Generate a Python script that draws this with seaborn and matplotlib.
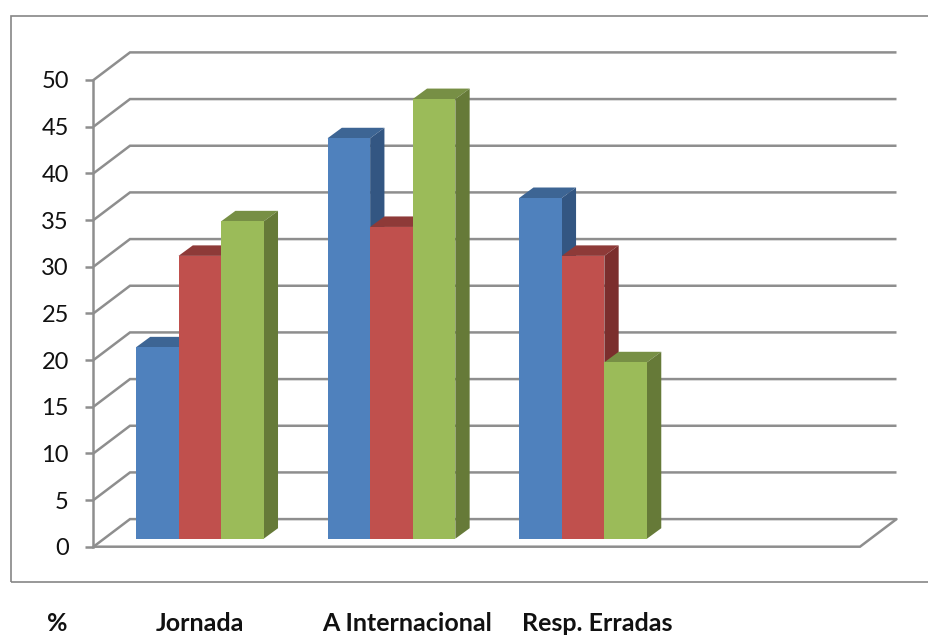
import matplotlib
matplotlib.use("Agg")
import matplotlib.pyplot as plt
import pandas as pd
import seaborn as sns
from matplotlib.patches import Rectangle

# Percentages per group, one list per series
groups = ["Jornada", "A Internacional", "Resp. Erradas", ""]
series_a = [20.5, 42.9, 36.5, None]
series_b = [30.3, 33.4, 30.3, None]
series_c = [34.0, 47.1, 18.9, None]
y_ticks = list(range(0, 55, 5))
footer_labels = ["%", "Jornada", "A Internacional", "Resp. Erradas"]
footer_x = [47, 156, 322, 522]

front_colors = ["#4F81BD", "#C0504D", "#9BBB59"]
top_colors = ["#3D6594", "#8E3A38", "#778F45"]
side_colors = ["#335682", "#7B2E2D", "#667A38"]
GRID = "#8E8E8E"
FRAME = "#868686"

W, H = 929, 637
sns.set_theme(style="white")
plt.rcParams["font.family"] = ["Lato", "DejaVu Sans"]


def pixel_axes(fig, left, right, bottom, top):
    """Axes placed by pixel edges, y measured from the top of the canvas."""
    return fig.add_axes([left / W, 1 - bottom / H, (right - left) / W, (bottom - top) / H])


fig = plt.figure(figsize=(W / 100, H / 100), dpi=100, facecolor="white")
fig.add_artist(Rectangle((11 / W, 1 - 581.5 / H), 1.0, (581.5 - 15.5) / H, transform=fig.transFigure,
                         fill=False, edgecolor=FRAME, linewidth=1.2))

# Walls and floor of the 3D box
X0, X1, Y0, Y50 = 93.5, 860, 546.7, 80
DEPTH_X, DEPTH_Y = 36.5, 27.6
wall = pixel_axes(fig, X0, X1, Y0, Y50)
wall.patch.set_alpha(0)
wall.set_xlim(0, X1 - X0)
wall.set_ylim(y_ticks[0], y_ticks[-1])
unit = (y_ticks[-1] - y_ticks[0]) / (Y0 - Y50)
back_right = X1 - X0 + DEPTH_X
for v in y_ticks:
    wall.plot([0, DEPTH_X, back_right], [v, v + DEPTH_Y * unit, v + DEPTH_Y * unit],
              color=GRID, lw=1.8, clip_on=False, solid_joinstyle="miter", solid_capstyle="butt")
wall.plot([0, X1 - X0, back_right], [0, 0, DEPTH_Y * unit], color=GRID, lw=1.8, clip_on=False,
          solid_joinstyle="miter")
sns.despine(ax=wall, top=True, right=True, bottom=True)
wall.spines["left"].set_color(GRID)
wall.spines["left"].set_linewidth(1.8)
wall.set_xticks([])
wall.set_yticks(y_ticks)
wall.tick_params(axis="y", left=True, length=5.8, width=1.8, color=GRID, pad=12,
                 labelsize=17, labelcolor="#111111")

# Bars stand a little way into the box
SHIFT_X, SHIFT_Y = 10.5, 8.0
bars_ax = pixel_axes(fig, X0 + SHIFT_X, X1 + SHIFT_X, Y0 - SHIFT_Y, Y50 - SHIFT_Y)
bars_ax.patch.set_alpha(0)
names = ["A", "B", "C"]
table = pd.DataFrame({
    "group": groups * 3,
    "series": [n for n in names for _ in groups],
    "value": series_a + series_b + series_c,
})
sns.barplot(data=table, x="group", y="value", hue="series", order=groups, hue_order=names,
            palette=front_colors, saturation=1, width=0.667, gap=0, legend=False,
            ax=bars_ax, zorder=3, linewidth=0)
bars_ax.set_xlim(-0.5, 3.5)
bars_ax.set_ylim(y_ticks[0], y_ticks[-1])
bars_ax.axis("off")

# Top and side faces follow each drawn bar of a series
px_x = 4 / (X1 - X0)
BAR_DX, BAR_DY = 14.3 * px_x, 10.5 * unit
for idx, container in enumerate(bars_ax.containers):
    for patch in container:
        h = patch.get_height()
        if not h or h != h:
            continue
        x0, x1 = patch.get_x(), patch.get_x() + patch.get_width()
        bars_ax.fill([x0, x1, x1 + BAR_DX, x0 + BAR_DX], [h, h, h + BAR_DY, h + BAR_DY],
                     color=top_colors[idx], lw=0, zorder=2, clip_on=False)
        bars_ax.fill([x1, x1 + BAR_DX, x1 + BAR_DX, x1], [0, BAR_DY, h + BAR_DY, h],
                     color=side_colors[idx], lw=0, zorder=2, clip_on=False)

for label, x in zip(footer_labels, footer_x):
    fig.text(x / W, 1 - 631 / H, label, fontsize=18, fontweight="bold", color="#111111",
             ha="left", va="baseline")

fig.savefig("out.png", dpi=100)
